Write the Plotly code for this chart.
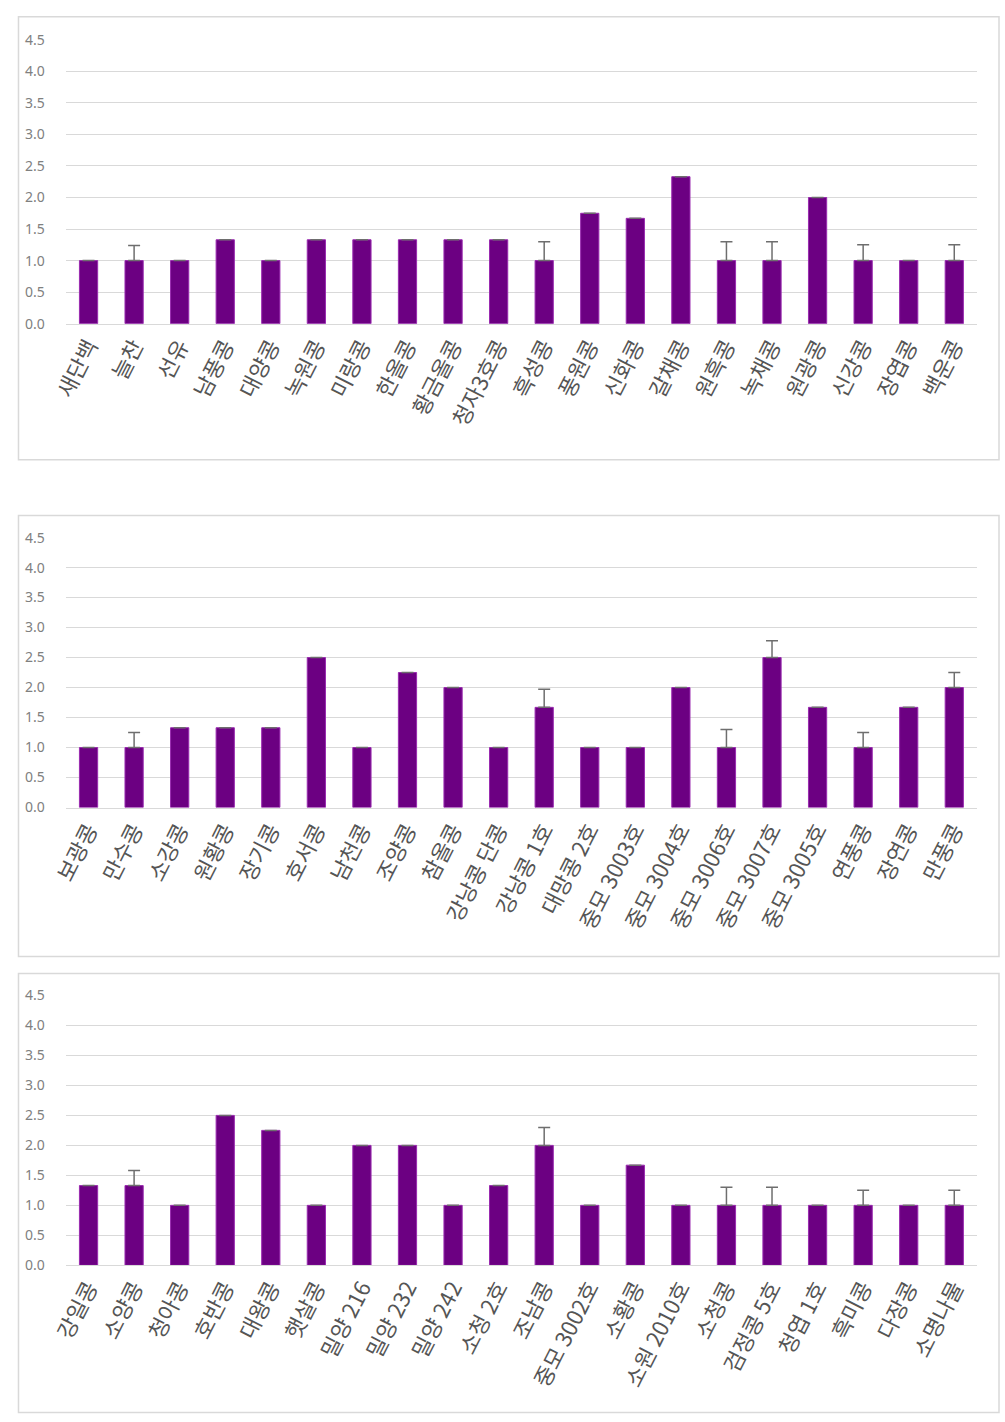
import plotly.graph_objects as go

# ---- data ----
names1 = ["새단백", "늘찬", "선유", "남풍콩", "대양콩", "녹원콩", "미랑콩", "한올콩", "황금올콩", "청자3호콩",
          "흑성콩", "풍원콩", "신화콩", "갈채콩", "원흑콩", "녹채콩", "원광콩", "신강콩", "장엽콩", "백운콩"]
vals1 = [1.0, 1.0, 1.0, 1.33, 1.0, 1.33, 1.33, 1.33, 1.33, 1.33,
         1.0, 1.75, 1.67, 2.33, 1.0, 1.0, 2.0, 1.0, 1.0, 1.0]
err1 = [0, 0.24, 0, 0, 0, 0, 0, 0, 0, 0,
        0.3, 0, 0, 0, 0.3, 0.3, 0, 0.25, 0, 0.25]

names2 = ["보광콩", "만수콩", "소강콩", "원황콩", "장기콩", "호서콩", "남천콩", "조양콩", "참올콩", "강낭콩 단콩",
          "강낭콩 1호", "대망콩 2호", "중모 3003호", "중모 3004호", "중모 3006호", "중모 3007호", "중모 3005호",
          "연풍콩", "장연콩", "만풍콩"]
vals2 = [1.0, 1.0, 1.33, 1.33, 1.33, 2.5, 1.0, 2.25, 2.0, 1.0,
         1.67, 1.0, 1.0, 2.0, 1.0, 2.5, 1.67, 1.0, 1.67, 2.0]
err2 = [0, 0.25, 0, 0, 0, 0, 0, 0, 0, 0,
        0.3, 0, 0, 0, 0.3, 0.28, 0, 0.25, 0, 0.25]

names3 = ["강일콩", "소양콩", "청아콩", "호반콩", "대왕콩", "햇살콩", "밀양 216", "밀양 232", "밀양 242", "소청 2호",
          "조남콩", "중모 3002호", "소황콩", "소원 2010호", "소청콩", "검정콩 5호", "청엽 1호", "흑미콩", "다장콩", "소명나물"]
vals3 = [1.33, 1.33, 1.0, 2.5, 2.25, 1.0, 2.0, 2.0, 1.0, 1.33,
         2.0, 1.0, 1.67, 1.0, 1.0, 1.0, 1.0, 1.0, 1.0, 1.0]
err3 = [0, 0.25, 0, 0, 0, 0, 0, 0, 0, 0,
        0.3, 0, 0, 0, 0.3, 0.3, 0, 0.25, 0, 0.25]

y_ticks = [0.0, 0.5, 1.0, 1.5, 2.0, 2.5, 3.0, 3.5, 4.0, 4.5]

# ---- layout geometry ----
W, H = 1005, 1422


def px_x(x):
    return min(max((x - 14.1) / 0.985, 0.5), W - 0.5) / W


def px_y(y):
    return 1 - min(max((y - 8.2) / 0.987, 0.5), H - 0.5) / H


panels = [
    dict(names=names1, vals=vals1, err=err1, y0=322, y45=38, box=(8, 15, 998, 458)),
    dict(names=names2, vals=vals2, err=err2, y0=806, y45=536, box=(8, 514, 998, 955)),
    dict(names=names3, vals=vals3, err=err3, y0=1264, y45=994, box=(8, 972, 998, 1413)),
]
x_left, x_right = 62, 976

fig = go.Figure()
layout = dict(
    width=W, height=H, margin=dict(l=0, r=0, t=0, b=0),
    paper_bgcolor="white", plot_bgcolor="white", showlegend=False,
    bargap=0.6, shapes=[],
    font=dict(family="Noto Sans CJK KR, Noto Sans, sans-serif", color="#595959"),
)

for i, p in enumerate(panels, start=1):
    xa = "x" if i == 1 else f"x{i}"
    ya = "y" if i == 1 else f"y{i}"
    fig.add_trace(go.Bar(
        x=p["names"], y=p["vals"], xaxis=xa, yaxis=ya,
        marker=dict(color="#6C0082", line=dict(color="#9A2BB0", width=1)),
        error_y=dict(type="data", symmetric=False, array=p["err"],
                     arrayminus=[0] * len(p["err"]),
                     color="#6E6E6E", thickness=1.5, width=6),
    ))
    xkey = "xaxis" if i == 1 else f"xaxis{i}"
    ykey = "yaxis" if i == 1 else f"yaxis{i}"
    layout[xkey] = dict(
        domain=[px_x(x_left), px_x(x_right)], anchor=ya,
        showgrid=False, showline=True, linecolor="#D9D9D9", linewidth=1,
        tickangle=-63, tickfont=dict(size=22, color="#555555",
                                     family="Noto Sans CJK KR"),
        ticks="", ticklabelstandoff=0, fixedrange=True,
    )
    layout[ykey] = dict(
        domain=[px_y(p["y0"]), px_y(p["y45"])], anchor=xa,
        range=[0, 4.5], tickvals=y_ticks, tickformat=".1f",
        showgrid=True, gridcolor="#D9D9D9", gridwidth=1,
        zeroline=False, showline=False, ticks="",
        tickfont=dict(size=14, color="#808080", family="Noto Sans"),
        ticklabelstandoff=20, fixedrange=True,
    )
    bx0, by0, bx1, by1 = p["box"]
    layout["shapes"].append(dict(
        type="rect", xref="paper", yref="paper",
        x0=px_x(bx0), x1=px_x(bx1), y0=px_y(by1), y1=px_y(by0),
        line=dict(color="#D9D9D9", width=1.5), fillcolor="rgba(0,0,0,0)", layer="below",
    ))

fig.update_layout(**layout)
fig.write_html(
    "out.html",
    config={"displayModeBar": False, "staticPlot": True},
    post_script=("document.documentElement.style.margin='0';"
                 "document.documentElement.style.overflow='hidden';"
                 "document.body.style.margin='0';document.body.style.padding='0';"
                 "document.body.style.overflow='hidden';"),
)
